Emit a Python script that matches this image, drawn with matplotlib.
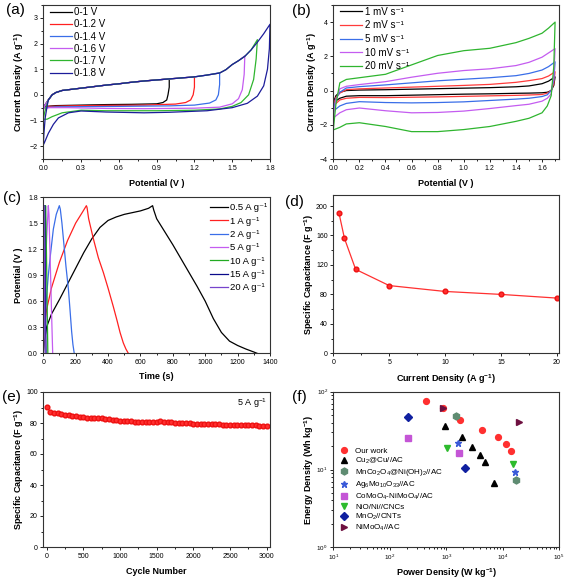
import numpy as np
import matplotlib
matplotlib.use("Agg")
import matplotlib.pyplot as plt
from matplotlib.ticker import MultipleLocator, LogLocator

plt.rcParams['font.family'] = ['Liberation Sans', 'DejaVu Sans']
plt.rcParams['mathtext.default'] = 'regular'

# ---------------- (a) CV at different windows ----------------
a_labels = ['0-1 V', '0-1.2 V', '0-1.4 V', '0-1.6 V', '0-1.7 V', '0-1.8 V']
a_colors = ['#000000', '#ff2020', '#3a6ee8', '#c45cf0', '#2fb52f', '#1c1c9a']
# common anodic branch
a_up_v = [0.04, 0.07, 0.10, 0.15, 0.20, 0.30, 0.40, 0.50, 0.60, 0.70, 0.80, 0.90, 1.00,
          1.10, 1.20, 1.30, 1.40, 1.45, 1.50, 1.55, 1.60, 1.65, 1.70, 1.75, 1.80]
a_up_i = [-0.2, 0.0, 0.09, 0.17, 0.20, 0.26, 0.32, 0.38, 0.43, 0.49, 0.54, 0.58, 0.62,
          0.66, 0.70, 0.77, 0.85, 0.98, 1.18, 1.33, 1.50, 1.75, 2.05, 2.38, 2.75]
a_start_v = [[0, 0.02], [0, 0.02], [0, 0.02], [0, 0.02], [0, 0.01, 0.03], [0, 0.005, 0.015, 0.03]]
a_start_i = [[-0.5, -0.35], [-0.5, -0.35], [-0.5, -0.35], [-0.55, -0.35], [-0.95, -0.7, -0.35],
             [-1.95, -1.5, -0.9, -0.45]]
a_vmax = [1.0, 1.2, 1.4, 1.6, 1.7, 1.8]
a_low_v = [
    [1.0, 1.0, 0.99, 0.98, 0.95, 0.9, 0.7, 0.5, 0.3, 0.1, 0.02, 0.0],
    [1.2, 1.2, 1.19, 1.17, 1.13, 1.05, 0.8, 0.5, 0.2, 0.05, 0.0],
    [1.4, 1.4, 1.39, 1.37, 1.32, 1.2, 1.0, 0.6, 0.3, 0.1, 0.0],
    [1.6, 1.595, 1.58, 1.55, 1.5, 1.4, 1.2, 0.8, 0.5, 0.2, 0.05, 0.0],
    [1.7, 1.69, 1.67, 1.63, 1.57, 1.5, 1.4, 1.2, 0.9, 0.5, 0.3, 0.15, 0.07, 0.03, 0.0],
    [1.8, 1.795, 1.78, 1.75, 1.7, 1.62, 1.5, 1.3, 1.0, 0.8, 0.5, 0.3, 0.2, 0.12, 0.08, 0.04, 0.01, 0.0],
]
a_low_i = [
    [0.62, 0.3, 0.0, -0.2, -0.3, -0.35, -0.37, -0.38, -0.4, -0.42, -0.45, -0.5],
    [0.70, 0.3, 0.0, -0.2, -0.3, -0.36, -0.4, -0.41, -0.43, -0.45, -0.5],
    [0.86, 0.4, 0.0, -0.2, -0.32, -0.4, -0.43, -0.45, -0.46, -0.47, -0.5],
    [1.52, 0.8, 0.2, -0.15, -0.35, -0.48, -0.52, -0.54, -0.53, -0.5, -0.5, -0.55],
    [2.15, 1.4, 0.6, 0.0, -0.3, -0.45, -0.55, -0.6, -0.62, -0.62, -0.6, -0.7, -0.85, -0.95, -0.95],
    [2.75, 1.8, 1.0, 0.35, -0.05, -0.33, -0.5, -0.62, -0.68, -0.7, -0.67, -0.63, -0.7, -0.9, -1.15,
     -1.5, -1.85, -1.95],
]

# ---------------- (b) CV at different scan rates ----------------
b_labels = ['1 mV s⁻¹', '2 mV s⁻¹', '5 mV s⁻¹', '10 mV s⁻¹', '20 mV s⁻¹']
b_colors = ['#000000', '#ff3b3b', '#3a6ee8', '#c45cf0', '#2fb52f']
b_up_v = [0, 0.02, 0.05, 0.1, 0.2, 0.4, 0.6, 0.8, 1.0, 1.2, 1.4, 1.5, 1.6, 1.65, 1.7]
b_up_i = [
    [-0.7, -0.3, -0.1, 0.0, 0.03, 0.05, 0.08, 0.11, 0.14, 0.17, 0.22, 0.27, 0.4, 0.55, 0.8],
    [-0.9, -0.4, -0.15, 0.05, 0.1, 0.15, 0.2, 0.25, 0.3, 0.36, 0.48, 0.58, 0.7, 0.85, 1.1],
    [-1.2, -0.5, -0.1, 0.15, 0.23, 0.33, 0.45, 0.57, 0.66, 0.75, 0.87, 1.0, 1.2, 1.4, 1.68],
    [-1.6, -0.6, 0.1, 0.25, 0.35, 0.52, 0.78, 1.01, 1.17, 1.27, 1.46, 1.65, 1.95, 2.2, 2.45],
    [-2.3, -0.8, 0.45, 0.65, 0.75, 0.95, 1.5, 2.05, 2.33, 2.47, 2.8, 3.05, 3.35, 3.65, 4.0],
]
b_low_v = [1.7, 1.69, 1.67, 1.64, 1.6, 1.5, 1.4, 1.2, 1.0, 0.8, 0.6, 0.4, 0.2, 0.1, 0.05, 0.0]
b_low_i = [
    [0.8, 0.3, 0.0, -0.1, -0.13, -0.15, -0.16, -0.19, -0.21, -0.24, -0.27, -0.3, -0.3, -0.33, -0.45, -0.7],
    [1.1, 0.4, 0.0, -0.15, -0.23, -0.26, -0.28, -0.31, -0.34, -0.37, -0.39, -0.41, -0.4, -0.45, -0.55, -0.9],
    [1.68, 0.6, 0.0, -0.25, -0.35, -0.45, -0.5, -0.58, -0.66, -0.7, -0.72, -0.7, -0.65, -0.75, -0.9, -1.2],
    [2.45, 0.9, -0.2, -0.45, -0.62, -0.8, -0.88, -1.05, -1.2, -1.28, -1.3, -1.18, -1.02, -1.12, -1.3, -1.6],
    [4.0, 1.4, -0.3, -0.9, -1.3, -1.62, -1.8, -2.1, -2.28, -2.4, -2.4, -2.1, -1.88, -1.95, -2.15, -2.3],
]

# ---------------- (c) GCD curves ----------------
c_labels = ['0.5 A g⁻¹', '1 A g⁻¹', '2 A g⁻¹', '5 A g⁻¹', '10 A g⁻¹', '15 A g⁻¹', '20 A g⁻¹']
c_colors = ['#000000', '#ff2020', '#3a6ee8', '#c45cf0', '#22aa22', '#0a0a8a', '#7744cc']
c_t = [
    [0, 8, 20, 50, 100, 150, 200, 250, 300, 350, 400, 450, 500, 550, 600, 650, 675,
     682, 700, 750, 800, 850, 900, 950, 1000, 1050, 1100, 1150, 1200, 1250, 1300, 1320],
    [0, 5, 20, 50, 100, 150, 200, 240, 266, 270, 280, 309, 340, 371, 400, 432, 455, 474, 494, 510, 525],
    [0, 3, 10, 20, 31, 45, 62, 80, 99, 105, 115, 124, 140, 155, 165, 175, 183, 191],
    [0, 2, 10, 20, 31, 35, 45, 52, 58],
    [0, 1, 6, 14, 17, 22, 28],
    [0, 1, 4, 8, 10, 13, 17],
    [0, 1, 3, 5, 7, 9, 11],
]
c_v = [
    [0.0, 0.15, 0.3, 0.45, 0.62, 0.8, 0.98, 1.16, 1.32, 1.45, 1.53, 1.57, 1.6, 1.62, 1.64, 1.67, 1.70,
     1.65, 1.55, 1.4, 1.25, 1.09, 0.93, 0.77, 0.6, 0.4, 0.24, 0.14, 0.09, 0.05, 0.015, 0.0],
    [0.0, 0.3, 0.5, 0.75, 1.05, 1.3, 1.5, 1.62, 1.70, 1.68, 1.55, 1.32, 1.1, 0.93, 0.75, 0.54, 0.38,
     0.24, 0.12, 0.05, 0.0],
    [0.0, 0.2, 0.4, 0.65, 0.9, 1.15, 1.43, 1.6, 1.70, 1.66, 1.5, 1.32, 1.0, 0.74, 0.5, 0.25, 0.1, 0.0],
    [0.0, 0.3, 0.8, 1.3, 1.70, 1.6, 0.9, 0.4, 0.0],
    [0.0, 0.3, 0.9, 1.70, 1.5, 0.8, 0.0],
    [0.0, 0.3, 1.0, 1.70, 1.4, 0.7, 0.0],
    [0.0, 0.3, 1.1, 1.70, 1.3, 0.6, 0.0],
]

# ---------------- (d) rate capability ----------------
d_current = [0.5, 1, 2, 5, 10, 15, 20]
d_cap = [191, 156, 114, 92, 84, 80, 75]

# ---------------- (e) cycling ----------------
e_cycle = list(range(0, 3001, 50))
e_cap = [90.5, 87.2, 86.6, 86.2, 85.8, 85.4, 85.0, 84.6, 84.2, 84.0, 83.7, 83.4, 83.2, 83.2,
         83.4, 83.0, 82.8, 82.5, 82.2, 82.0, 81.6, 81.4, 81.2, 81.0, 80.8, 80.7, 80.6, 80.5,
         80.5, 80.4, 80.4, 81.3, 80.9, 80.6, 80.4, 80.2, 80.0, 79.9, 79.8, 79.7, 79.6, 79.6,
         79.6, 79.5, 79.5, 79.4, 79.4, 79.2, 79.0, 78.9, 78.8, 78.7, 78.6, 78.6, 78.5, 78.5,
         78.4, 78.4, 78.3, 78.3, 78.2]

# ---------------- (f) Ragone ----------------
f_labels = ['Our work', 'Cu$_2$@Cu//AC', 'MnCo$_2$O$_4$@Ni(OH)$_2$//AC', 'Ag$_6$Mo$_{10}$O$_{33}$//AC',
            'CoMoO$_4$-NiMoO$_4$//AC', 'NiO/Ni//CNCs', 'MnO$_2$//CNTs', 'NiMoO$_4$//AC']
f_power = [
    [438, 895, 1783, 4290, 8190, 11500, 14200],
    [955, 1937, 2930, 3900, 4850, 6950],
    [1490, 17400],
    [1620, 16700],
    [209, 1710],
    [1035, 15000],
    [209, 2160],
    [895, 19200],
]
f_energy = [
    [75, 61, 43.3, 32.2, 25.9, 21.5, 17.3],
    [36.6, 26.4, 19.6, 15.5, 12.4, 6.8],
    [48.3, 7.3],
    [22.1, 9.2],
    [25.2, 16.1],
    [18.8, 11.8],
    [47.7, 10.4],
    [61, 41.1],
]
f_markers = ['o', '^', 'h', '*', 's', 'v', 'D', '>']
f_colors = ['#ff3030', '#000000', '#5f8c72', '#3a5ad8', '#c455d6', '#2dbb2d', '#1020a0', '#6e1040']
f_sizes = [4.2, 4.5, 5.0, 5.0, 3.8, 4.8, 3.8, 4.5]

W, H = 567, 579
fig = plt.figure(figsize=(W / 100, H / 100), dpi=100)


def make_ax(l, r, t, b):
    return fig.add_axes([l / W, 1 - b / H, (r - l) / W, (b - t) / H])


def style(ax, xlabel, ylabel, ylx, xly):
    for s in ax.spines.values():
        s.set_linewidth(0.8)
        s.set_color('#333333')
    ax.tick_params(which='both', direction='out', labelsize=5, width=0.6, pad=1.5)
    ax.tick_params(which='major', length=2.5)
    ax.tick_params(which='minor', length=1.4)
    ax.set_xlabel(xlabel, fontsize=6.5, fontweight='bold')
    ax.set_ylabel(ylabel, fontsize=6.5, fontweight='bold')
    ax.yaxis.set_label_coords(ylx, 0.5)
    ax.xaxis.set_label_coords(0.5, xly)


def panel_label(x, y, s):
    fig.text(x / W, 1 - y / H, s, fontsize=11, va='center', ha='left')


# (a)
ax = make_ax(43.3, 270, 5, 159)
for k in range(6):
    vmax = a_vmax[k]
    uv = [v for v in a_up_v if v < vmax]
    ui = [a_up_i[j] for j, v in enumerate(a_up_v) if v < vmax]
    xs = a_start_v[k] + uv + a_low_v[k]
    ys = a_start_i[k] + ui + a_low_i[k]
    ax.plot(xs, ys, color=a_colors[k], lw=0.9, label=a_labels[k])
ax.set_xlim(0, 1.8)
ax.set_ylim(-2.5, 3.5)
ax.xaxis.set_major_locator(MultipleLocator(0.3))
ax.xaxis.set_minor_locator(MultipleLocator(0.15))
ax.yaxis.set_major_locator(MultipleLocator(1))
ax.yaxis.set_minor_locator(MultipleLocator(0.5))
ax.xaxis.set_major_formatter(matplotlib.ticker.FormatStrFormatter('%.1f'))
style(ax, 'Potential (V )', 'Current Density (A g$^{-1}$)', -0.076, -0.13)
ax.legend(loc='upper left', bbox_to_anchor=(0.03, 0.985), frameon=False, fontsize=7,
          handlelength=2.3, handletextpad=0.2, labelspacing=0.22, borderpad=0, borderaxespad=0)
panel_label(6, 10, '(a)')

# (b)
ax = make_ax(333.3, 559, 5, 159)
for k in range(5):
    ax.plot(b_up_v + b_low_v, b_up_i[k] + b_low_i[k], color=b_colors[k], lw=0.9, label=b_labels[k])
ax.set_xlim(0, 1.73)
ax.set_ylim(-4, 5)
ax.xaxis.set_major_locator(MultipleLocator(0.2))
ax.xaxis.set_minor_locator(MultipleLocator(0.1))
ax.yaxis.set_major_locator(MultipleLocator(2))
ax.yaxis.set_minor_locator(MultipleLocator(1))
ax.xaxis.set_major_formatter(matplotlib.ticker.FormatStrFormatter('%.1f'))
style(ax, 'Potential (V )', 'Current Density (A g$^{-1}$)', -0.062, -0.13)
ax.legend(loc='upper left', bbox_to_anchor=(0.03, 0.99), frameon=False, fontsize=7,
          handlelength=2.3, handletextpad=0.3, labelspacing=0.38, borderpad=0, borderaxespad=0)
panel_label(292, 11, '(b)')

# (c)
ax = make_ax(43.3, 270, 197, 353.3)
for k in range(7):
    ax.plot(c_t[k], c_v[k], color=c_colors[k], lw=0.9, label=c_labels[k])
ax.set_xlim(0, 1400)
ax.set_ylim(0, 1.8)
ax.xaxis.set_major_locator(MultipleLocator(200))
ax.xaxis.set_minor_locator(MultipleLocator(100))
ax.yaxis.set_major_locator(MultipleLocator(0.3))
ax.yaxis.set_minor_locator(MultipleLocator(0.15))
ax.yaxis.set_major_formatter(matplotlib.ticker.FormatStrFormatter('%.1f'))
style(ax, 'Time (s)', 'Potential (V )', -0.09, -0.117)
ax.legend(loc='upper left', bbox_to_anchor=(0.734, 0.96), frameon=False, fontsize=6.8,
          handlelength=1.9, handletextpad=0.2, labelspacing=0.46, borderpad=0, borderaxespad=0)
panel_label(3, 198, '(c)')

# (d)
ax = make_ax(333.3, 559, 195, 353.3)
ax.plot(d_current, d_cap, color='#ff3030', lw=0.9, marker='o', ms=3.4, mec='#ee1010')
ax.set_xlim(0, 20.2)
ax.set_ylim(0, 215)
ax.xaxis.set_major_locator(MultipleLocator(5))
ax.xaxis.set_minor_locator(MultipleLocator(2.5))
ax.yaxis.set_major_locator(MultipleLocator(40))
ax.yaxis.set_minor_locator(MultipleLocator(20))
style(ax, 'Current Density (A g$^{-1}$)', 'Specific Capacitance (F g$^{-1}$)', -0.077, -0.123)
panel_label(285, 202, '(d)')

# (e)
ax = make_ax(43.3, 270, 392, 547)
ax.plot(e_cycle, e_cap, ls='none', marker='o', ms=3.4, color='#ff3030', mec='#ee1010')
ax.set_xlim(-45, 3045)
ax.set_ylim(0, 100)
ax.xaxis.set_major_locator(MultipleLocator(500))
ax.xaxis.set_minor_locator(MultipleLocator(250))
ax.yaxis.set_major_locator(MultipleLocator(20))
ax.yaxis.set_minor_locator(MultipleLocator(10))
style(ax, 'Cycle Number', 'Specific Capacitance (F g$^{-1}$)', -0.076, -0.127)
ax.text(0.985, 0.925, '5 A g$^{-1}$', transform=ax.transAxes, ha='right', va='center', fontsize=6.5)
panel_label(2, 397, '(e)')

# (f)
ax = make_ax(333.3, 559, 391.7, 547.3)
for k in range(8):
    ax.plot(f_power[k], f_energy[k], ls='none', marker=f_markers[k], ms=f_sizes[k],
            color=f_colors[k], mec=f_colors[k], label=f_labels[k])
ax.set_xscale('log')
ax.set_yscale('log')
ax.set_xlim(10, 1e5)
ax.set_ylim(1, 100)
ax.xaxis.set_major_locator(LogLocator(base=10, numticks=10))
ax.xaxis.set_minor_locator(LogLocator(base=10, subs=np.arange(2, 10), numticks=10))
ax.yaxis.set_major_locator(LogLocator(base=10, numticks=10))
ax.yaxis.set_minor_locator(LogLocator(base=10, subs=np.arange(2, 10), numticks=10))
style(ax, 'Power Density (W kg$^{-1}$)', 'Energy Density (Wh kg$^{-1}$)', -0.077, -0.123)
ax.tick_params(labelsize=4.5)
ax.legend(loc='upper left', bbox_to_anchor=(0.03, 0.645), frameon=False, fontsize=5.8,
          handlelength=1.0, handletextpad=0.9, labelspacing=0.15, borderpad=0, borderaxespad=0)
panel_label(292, 397, '(f)')

fig.savefig('out.png', dpi=100)
